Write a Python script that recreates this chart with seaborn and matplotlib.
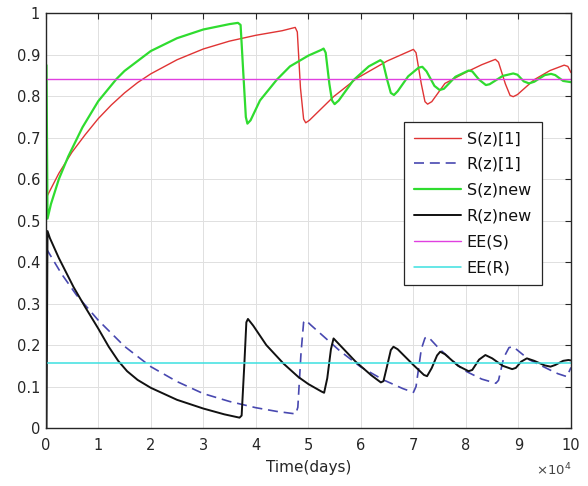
import matplotlib
matplotlib.use("Agg")
import matplotlib.pyplot as plt
import pandas as pd
import seaborn as sns
from matplotlib.ticker import FuncFormatter, MultipleLocator

# time in units of 1e4 days
t_s1 = [0.01, 0.25, 0.5, 0.75, 1.0, 1.25, 1.5, 1.75, 2.0, 2.5, 3.0, 3.5, 4.0, 4.5, 4.75, 4.79,
        4.85, 4.91, 4.95, 5.02, 5.48, 5.92, 6.5, 7.0, 7.05, 7.15, 7.22, 7.27, 7.35, 7.6, 8.02,
        8.3, 8.56, 8.62, 8.75, 8.84, 8.9, 8.98, 9.3, 9.6, 9.87, 9.94, 10.0]
s1 = [0.555, 0.614, 0.665, 0.707, 0.746, 0.779, 0.808, 0.833, 0.854, 0.888, 0.914, 0.933,
      0.947, 0.958, 0.966, 0.955, 0.82, 0.745, 0.736, 0.742, 0.799, 0.843, 0.885, 0.913,
      0.905, 0.83, 0.787, 0.781, 0.787, 0.831, 0.859, 0.876, 0.889, 0.882, 0.83, 0.802, 0.799,
      0.804, 0.84, 0.862, 0.875, 0.872, 0.857]

t_r1 = [0.01, 0.3, 0.59, 1.0, 1.5, 2.0, 2.5, 3.0, 3.5, 4.0, 4.4, 4.76, 4.8, 4.86, 4.91, 4.95,
        5.05, 5.6, 6.0, 6.43, 6.8, 7.0, 7.05, 7.15, 7.22, 7.28, 7.5, 7.95, 8.3, 8.57, 8.62,
        8.72, 8.82, 8.9, 9.2, 9.6, 9.75, 9.92, 10.0]
r1 = [0.433, 0.372, 0.32, 0.26, 0.197, 0.148, 0.112, 0.083, 0.064, 0.049, 0.04, 0.034, 0.05,
      0.18, 0.255, 0.26, 0.248, 0.186, 0.147, 0.116, 0.095, 0.086, 0.1, 0.19, 0.217, 0.22,
      0.19, 0.14, 0.118, 0.108, 0.115, 0.17, 0.194, 0.196, 0.165, 0.14, 0.131, 0.124, 0.146]

t_sn = [0.015, 0.035, 0.1, 0.25, 0.43, 0.7, 1.0, 1.35, 1.5, 2.0, 2.5, 3.0, 3.5, 3.66, 3.71, 3.76,
        3.81, 3.84, 3.9, 4.08, 4.4, 4.65, 5.0, 5.25, 5.29, 5.33, 5.4, 5.45, 5.5, 5.58, 5.86,
        6.15, 6.37, 6.42, 6.5, 6.57, 6.63, 6.7, 6.9, 7.1, 7.17, 7.25, 7.4, 7.5, 7.58, 7.8,
        8.05, 8.12, 8.25, 8.38, 8.45, 8.7, 8.9, 8.98, 9.1, 9.2, 9.3, 9.5, 9.62, 9.7, 9.85, 10.0]
sn = [0.875, 0.505, 0.54, 0.60, 0.655, 0.725, 0.788, 0.842, 0.861, 0.909, 0.94, 0.961, 0.974,
      0.977, 0.972, 0.86, 0.75, 0.734, 0.742, 0.79, 0.84, 0.872, 0.898, 0.912, 0.915, 0.905,
      0.83, 0.79, 0.781, 0.79, 0.839, 0.872, 0.887, 0.882, 0.84, 0.808, 0.803, 0.812, 0.848,
      0.869, 0.871, 0.86, 0.825, 0.815, 0.818, 0.847, 0.862, 0.86, 0.84, 0.827, 0.829, 0.849,
      0.855, 0.852, 0.836, 0.831, 0.835, 0.851, 0.854, 0.851, 0.837, 0.834]

t_rn = [0.015, 0.035, 0.08, 0.25, 0.53, 0.75, 1.0, 1.2, 1.38, 1.55, 1.75, 2.0, 2.5, 3.0, 3.4,
        3.69, 3.73, 3.78, 3.82, 3.85, 3.95, 4.2, 4.53, 4.81, 5.0, 5.25, 5.3, 5.36, 5.43, 5.48,
        5.6, 5.9, 6.2, 6.38, 6.43, 6.5, 6.57, 6.62, 6.7, 7.0, 7.2, 7.26, 7.35, 7.45, 7.51, 7.6,
        7.85, 8.05, 8.12, 8.25, 8.37, 8.5, 8.7, 8.88, 8.95, 9.05, 9.16, 9.3, 9.5, 9.61, 9.7,
        9.85, 9.95, 10.0]
rn = [0.0, 0.475, 0.458, 0.41, 0.34, 0.292, 0.24, 0.196, 0.162, 0.137, 0.116, 0.097, 0.068,
      0.047, 0.033, 0.025, 0.03, 0.15, 0.255, 0.263, 0.247, 0.2, 0.155, 0.123, 0.106, 0.088,
      0.085, 0.12, 0.19, 0.216, 0.2, 0.16, 0.127, 0.11, 0.113, 0.15, 0.188, 0.196, 0.19,
      0.152, 0.128, 0.125, 0.145, 0.175, 0.184, 0.178, 0.15, 0.137, 0.14, 0.165, 0.176, 0.168,
      0.15, 0.142, 0.145, 0.16, 0.168, 0.162, 0.151, 0.148, 0.152, 0.162, 0.164, 0.163]

x_range = [0, 10]
ee_s = 0.842
ee_r = 0.156

AX_COL = "#262626"

sns.set_theme(style="whitegrid")
plt.rcParams["font.family"] = ["DejaVu Sans"]

fig = plt.figure(figsize=(5.88, 4.86), dpi=100)
fig.patch.set_facecolor("white")
ax = fig.add_axes([0.0777, 0.1193, 0.8934, 0.8533])
ax.set_facecolor("white")

series = [
    ("S(z)[1]", t_s1, s1, "#e03434", 1.0, None),
    ("R(z)[1]", t_r1, r1, "#4848b0", 1.2, (6, 3.5)),
    ("S(z)new", t_sn, sn, "#2fdc2f", 1.6, None),
    ("R(z)new", t_rn, rn, "#111111", 1.4, None),
    ("EE(S)", x_range, [ee_s, ee_s], "#e040e0", 1.0, None),
    ("EE(R)", x_range, [ee_r, ee_r], "#3ce0e0", 1.1, None),
]
for label, t, y, color, lw, dash in series:
    df = pd.DataFrame({"t": t, "y": y})
    sns.lineplot(data=df, x="t", y="y", ax=ax, color=color, linewidth=lw,
                 label=label, sort=False, estimator=None)
    if dash:
        ax.lines[-1].set_dashes(dash)

ax.set_xlim(0, 10)
ax.set_ylim(0, 1)
ax.xaxis.set_major_locator(MultipleLocator(1))
ax.yaxis.set_major_locator(MultipleLocator(0.1))
ax.yaxis.set_major_formatter(FuncFormatter(lambda v, _: f"{v:g}"))
ax.xaxis.set_major_formatter(FuncFormatter(lambda v, _: f"{v:g}"))

ax.grid(True, color="#e0e0e0", linewidth=0.7)
for sp in ax.spines.values():
    sp.set_visible(True)
    sp.set_color(AX_COL)
    sp.set_linewidth(1.0)

ax.tick_params(direction="in", length=4, width=0.8, color=AX_COL, labelcolor=AX_COL,
               labelsize=10.5, top=True, right=True)
ax.tick_params(axis="x", pad=7)
ax.tick_params(axis="y", pad=4)

ax.set_xlabel("Time(days)", fontsize=11, color=AX_COL)
ax.set_ylabel("")
ax.xaxis.set_label_coords(0.5, -0.077)
ax.text(1.0, -0.082, r"$\times10^{4}$", transform=ax.transAxes, ha="right", va="top",
        fontsize=9.5, color="#444444")

leg = ax.legend(loc="upper right", bbox_to_anchor=(0.944, 0.739), borderaxespad=0,
                frameon=True, fancybox=False, edgecolor=AX_COL, framealpha=1,
                fontsize=11.5, handlelength=3.0, handletextpad=0.33, labelspacing=0.68,
                borderpad=0.6)
leg.get_frame().set_linewidth(0.9)
for txt in leg.get_texts():
    txt.set_color("#111111")

fig.savefig("out.png", dpi=100)
